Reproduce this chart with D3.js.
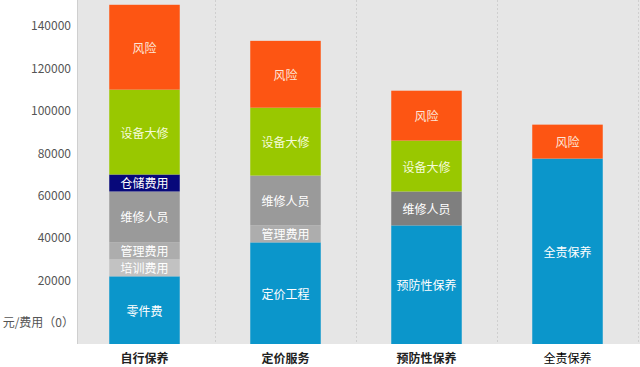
<!DOCTYPE html>
<html>
<head>
<meta charset="utf-8">
<script src="https://cdn.jsdelivr.net/npm/d3@7"></script>
<style>
  html, body { margin: 0; padding: 0; background: #fff; }
  svg { display: block; }
</style>
</head>
<body>
<svg id="chart" width="640" height="367"></svg>
<script>
// ---- data ----
const categories = ["自行保养", "定价服务", "预防性保养", "全责保养"];
const segNames1 = ["零件费", "培训费用", "管理费用", "维修人员", "仓储费用", "设备大修", "风险"];
const segVals1  = [22000, 8000, 8000, 24000, 8000, 40000, 40000];
const segNames2 = ["定价工程", "管理费用", "维修人员", "设备大修", "风险"];
const segVals2  = [38000, 8000, 23500, 32000, 31500];
const segNames3 = ["预防性保养", "维修人员", "设备大修", "风险"];
const segVals3  = [46000, 16000, 24000, 23500];
const segNames4 = ["全责保养", "风险"];
const segVals4  = [77500, 16000];
const yTicks = [0, 20000, 40000, 60000, 80000, 100000, 120000, 140000];
const zeroLabel = "元/费用（0）";

// ---- styles ----
const colorMap = {
  "风险": "#fd5513", "设备大修": "#99c800", "仓储费用": "#07087a",
  "维修人员": "#9a9a9a", "管理费用": "#adadad", "培训费用": "#c2c2c2",
  "零件费": "#0b96cb", "定价工程": "#0b96cb", "预防性保养": "#0b96cb", "全责保养": "#0b96cb"
};
const colorOverride = { "预防性保养|维修人员": "#7f7f7f" };
const textColor = { "风险": "#fde6d8", "设备大修": "#f4fbd8" };

const W = 640, H = 367;
const plotLeft = 77, plotRight = 640, plotTop = 0, plotBottom = 344;
const svg = d3.select("#chart");

const x = d3.scaleBand().domain(categories).range([74, 638]).paddingInner(0.5).paddingOuter(0.25);
const y = d3.scaleLinear().domain([0, 140000]).range([323, 26]);
const floorVal = y.invert(plotBottom);

// background
svg.append("rect").attr("x", plotLeft).attr("y", plotTop)
  .attr("width", plotRight - plotLeft).attr("height", plotBottom - plotTop)
  .attr("fill", "#e6e6e6");
svg.append("line").attr("x1", plotLeft + 0.5).attr("x2", plotLeft + 0.5)
  .attr("y1", plotTop).attr("y2", plotBottom).attr("stroke", "#cfcfcf");

// dividers
categories.forEach(c => {
  const xv = Math.round(x(c) + x.bandwidth() / 2 + x.step() / 2) + 0.5;
  svg.append("line").attr("x1", xv).attr("x2", xv).attr("y1", plotTop).attr("y2", plotBottom)
    .attr("stroke", "#cfcfcf").attr("stroke-dasharray", "2,2");
});

// y axis labels
const yAxis = d3.axisLeft(y).tickValues(yTicks).tickSize(0).tickPadding(0)
  .tickFormat(d => d === 0 ? zeroLabel : String(d));
const gy = svg.append("g").attr("transform", "translate(71,0)").call(yAxis);
gy.select(".domain").remove();
gy.selectAll("text").attr("fill", "#555").attr("font-size", 12)
  .attr("font-family", "'Noto Sans CJK SC', 'Open Sans', sans-serif");
gy.selectAll(".tick").filter(d => d === 0).select("text").attr("dx", 3);

// bars
const series = [
  [segNames1, segVals1], [segNames2, segVals2], [segNames3, segVals3], [segNames4, segVals4]
];
series.forEach(([names, vals], i) => {
  const cat = categories[i];
  let cum = 0;
  names.forEach((n, j) => {
    const lo = j === 0 ? floorVal : cum;
    cum += vals[j];
    const hi = cum;
    const y0 = y(lo), y1 = y(hi);
    svg.append("rect").attr("x", x(cat)).attr("width", x.bandwidth())
      .attr("y", y1).attr("height", y0 - y1)
      .attr("fill", colorOverride[cat + "|" + n] || colorMap[n]);
    svg.append("text").attr("x", x(cat) + x.bandwidth() / 2).attr("y", (y0 + y1) / 2)
      .attr("text-anchor", "middle").attr("dominant-baseline", "central")
      .attr("fill", textColor[n] || "#fff").attr("font-size", 12)
      .attr("font-family", "'Noto Sans CJK SC', sans-serif")
      .text(n);
  });
});

// x labels
categories.forEach((c, i) => {
  const last = i === categories.length - 1;
  svg.append("text").attr("x", x(c) + x.bandwidth() / 2).attr("y", 357)
    .attr("text-anchor", "middle").attr("dominant-baseline", "central")
    .attr("fill", last ? "#000" : "#222").attr("font-size", 12)
    .attr("font-weight", last ? "normal" : "bold")
    .attr("font-family", "'Noto Sans CJK SC', sans-serif")
    .text(c);
});
</script>
</body>
</html>
